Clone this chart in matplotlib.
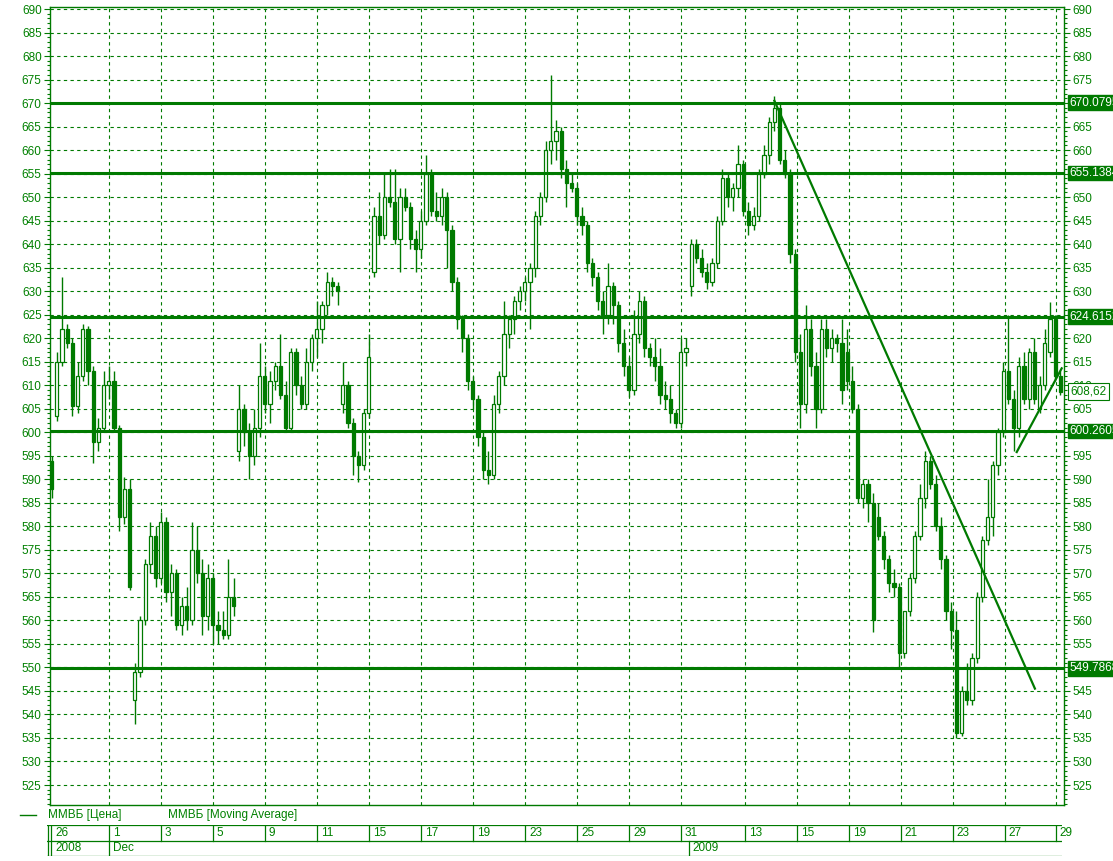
import matplotlib.pyplot as plt
import matplotlib.transforms as mtransforms
from matplotlib.lines import Line2D
import numpy as np

plt.rcParams['font.family'] = ['Liberation Sans', 'DejaVu Sans']
plt.rcParams['font.size'] = 8.5

GREEN = '#007a00'
TEXT_GREEN = '#008000'

# MMVB bars (one bar per ~2 hours)
opens = [594, 603.5, 615, 622, 619, 605.5, 612, 622, 613, 598,
         601, 610, 611, 601, 582, 588, 543, 549, 560, 572,
         578, 569, 581, 566, 570, 559, 563, 560, 575, 570,
         561, 569, 559, 558, 557, 565, 596, 605, 600, 595,
         601, 612, 606, 611, 614, 608, 601, 617, 610, 606,
         615, 620, 622, 627, 632, 631, 606, 610, 602, 595,
         593, 604, 634, 646, 642, 650, 649, 641, 650, 648,
         641, 639, 645, 655, 647, 646, 650, 643, 632, 624,
         620, 611, 607, 599, 592, 591, 606, 612, 621, 624,
         628, 630, 632, 635, 646, 650, 660, 662, 664, 656,
         653, 652, 646, 644, 636, 633, 628, 625, 631, 627,
         619, 614, 609, 621, 628, 618, 616, 614, 608, 607,
         604, 602, 617, 631, 640, 637, 634, 632, 636, 645,
         654, 650, 652, 657, 647, 644, 646, 655, 659, 666,
         669, 658, 655, 638, 617, 606, 622, 614, 605, 622,
         618, 620, 619, 617, 611, 605, 586, 589, 585, 582,
         578, 573, 568, 567, 553, 562, 569, 578, 586, 594,
         589, 580, 573, 562, 558, 536, 545, 543, 552, 565,
         577, 582, 593, 600, 613, 607, 601, 614, 607, 617,
         605, 610, 617, 624, 612]
highs = [595, 617, 633, 623, 620, 615, 623, 622.5, 614, 603,
         613, 614, 613, 601.5, 590.5, 590, 551, 561, 573, 581,
         580, 583, 582, 572, 571, 565, 567, 581, 580, 573,
         572, 570, 562, 562, 573, 569, 610, 606, 602, 605,
         619, 614, 613, 615, 621, 611, 618, 618, 612, 618,
         621, 628, 628, 634, 633, 632, 615, 611, 603, 596,
         605, 621, 648, 651, 655, 656, 656, 652, 652, 649,
         643, 647, 659, 656, 651, 652, 651, 644, 633, 625,
         621, 612, 608, 600, 596, 608, 613, 628, 625, 629,
         631, 633, 636, 647, 651, 662, 676, 666.5, 665, 658,
         655, 653, 648, 645, 637, 634, 630, 636, 632, 628,
         622, 616, 626, 630, 629, 619, 620, 618, 611, 610,
         605, 620, 620, 641, 641, 639, 636, 637, 646, 656,
         655, 653, 661, 658, 649, 648, 656, 661, 667, 671.5,
         670, 660, 656, 639, 621, 627, 624, 617, 624, 624,
         622, 621, 624, 622, 614, 606, 590, 590, 587, 585,
         579, 574, 571, 568, 562, 570, 579, 589, 596, 595,
         591, 582, 574, 564, 562, 546, 551, 553, 566, 578,
         590, 594, 601, 615, 625, 609, 616, 617, 618, 620,
         612, 622, 627.6, 625, 613]
lows = [586, 602.5, 614, 618, 603.5, 604, 611, 610, 593.5, 596,
        600, 607, 600, 579, 580.5, 566.5, 538, 548, 559, 570,
        567, 568, 564, 561, 558, 557, 558, 559, 568, 557,
        558, 555, 555, 556, 556, 561, 594, 597, 590, 593,
        599, 604, 602, 609, 607, 600, 600, 608, 605, 605,
        613, 616, 619, 625, 629, 627, 604, 601, 591, 589.5,
        592, 603, 633, 640, 641, 648, 640, 634, 647, 639,
        634, 637, 644, 646, 645, 644, 635, 630, 622, 617,
        609, 605, 597, 590, 589, 590, 604, 610, 618, 621,
        626, 628, 622, 633, 644, 649, 657, 658, 654, 648,
        651, 644, 642, 634, 631, 626, 621, 623, 623, 617,
        612, 607.5, 608, 619, 616, 614, 611, 606, 605, 602,
        601, 601, 614, 629, 636, 633, 630.5, 631, 635, 644,
        648, 647, 650, 646, 642, 643, 645, 654, 657, 664,
        657, 654, 636, 615, 601, 604, 612, 601, 604, 616,
        615, 617, 606, 609, 604, 585, 584, 581, 557.5, 577,
        571, 566, 565, 550, 552, 561, 568, 577, 584, 588,
        579, 571, 560, 554, 535, 535.5, 542, 542, 551, 564,
        576, 578, 591, 599, 606, 596, 599, 606, 605, 606,
        604, 609, 616, 611, 608]
closes = [588, 615, 622, 619, 605.5, 612, 622, 613, 598, 601,
          610, 611, 601, 582, 588, 567, 549, 560, 572, 578,
          569, 581, 566, 570, 559, 563, 560, 575, 570, 561,
          569, 559, 558, 557, 565, 563, 605, 600, 595, 601,
          612, 606, 611, 614, 608, 601, 617, 610, 606, 615,
          620, 622, 627, 632, 631, 630, 610, 602, 595, 593,
          604, 616, 646, 642, 650, 649, 641, 650, 648, 641,
          639, 645, 655, 647, 646, 650, 643, 632, 624, 620,
          611, 607, 599, 592, 591, 606, 612, 621, 624, 628,
          630, 632, 635, 646, 650, 660, 662, 664, 656, 653,
          652, 646, 644, 636, 633, 628, 625, 631, 627, 619,
          614, 609, 621, 628, 618, 616, 614, 608, 607, 604,
          602, 617, 618, 640, 637, 634, 632, 636, 645, 654,
          650, 652, 657, 647, 644, 646, 655, 659, 666, 669,
          658, 655, 638, 617, 606, 622, 614, 605, 622, 618,
          620, 619, 609, 611, 605, 586, 589, 585, 560, 578,
          573, 568, 567, 553, 562, 569, 578, 586, 594, 589,
          580, 573, 562, 558, 536, 545, 543, 552, 565, 577,
          582, 593, 600, 613, 607, 601, 614, 607, 617, 607,
          610, 619, 624, 612, 608.62]

# horizontal support/resistance levels and trend lines
levels = [670.0795, 655.1384, 624.6152, 600.2605, 549.7868]
level_labels = ['670.0795', '655.1384', '624.6152', '600.2605', '549.7868']
last_price = 608.62
last_label = '608,62'
trend_down_x = [139.5, 189.6]
trend_down_y = [670.5, 545.5]
trend_up_x = [186.1, 194.75]
trend_up_y = [595.8, 613.6]

# date strip (bar index of each day boundary)
day_pos = [11.5, 21.5, 31.5, 41.5, 51.5, 61.5, 71.5, 81.5, 91.5, 101.5,
           111.5, 121.5, 133.8, 143.8, 153.8, 163.8, 173.8, 183.8, 193.6]
day_labels = ['1', '3', '5', '9', '11', '15', '17', '19', '23', '25',
              '29', '31', '13', '15', '19', '21', '23', '27', '29']
first_day = '26'
period_pos = [11.5, 123.0]
period_labels = ['Dec', '2009']
first_period = '2008'

W, H = 1113, 861
PX0, PXU = 49.0, 5.2   # pixel of bar index 0, pixels per bar


def px2x(px):
    return (px - PX0) / PXU


fig = plt.figure(figsize=(W / 100, H / 100), dpi=100)
ax = fig.add_axes([50 / W, 1 - 805 / H, 1014 / W, 798 / H])

x = np.arange(len(closes)) + 0.5
o = np.array(opens)
c = np.array(closes)
up = c >= o
bottom = np.minimum(o, c)
height = np.maximum(np.abs(c - o), 0.35)

ax.vlines(x, lows, highs, color=GREEN, lw=1.0, zorder=3)
ax.bar(x[up], height[up], bottom=bottom[up], width=0.62,
       facecolor='white', edgecolor=GREEN, lw=0.9, zorder=4)
ax.bar(x[~up], height[~up], bottom=bottom[~up], width=0.62,
       facecolor=GREEN, edgecolor=GREEN, lw=0.9, zorder=4)

for lv in levels:
    ax.axhline(lv, color=GREEN, lw=2.2, zorder=5)
ax.plot(trend_down_x, trend_down_y, color=GREEN, lw=1.6, zorder=5)
ax.plot(trend_up_x, trend_up_y, color=GREEN, lw=1.6, zorder=5)

ax.set_xlim(px2x(50), px2x(1064))
ax.set_ylim(520.75, 690.43)
ax.set_yticks(np.arange(525, 691, 5))
ax.set_yticks(np.arange(521, 691, 1), minor=True)
ax.set_xticks(day_pos)
ax.grid(True, which='major', color=GREEN, linestyle=(0, (3, 3)), lw=0.8)
ax.tick_params(axis='x', length=0, labelbottom=False)
ax.tick_params(axis='y', which='both', left=True, right=True,
               labelleft=True, labelright=True, colors=GREEN,
               labelcolor=TEXT_GREEN, labelsize=8.5, width=0.8)
ax.tick_params(axis='y', which='major', length=4, pad=2)
ax.tick_params(axis='y', which='minor', length=2.5)
for sp in ax.spines.values():
    sp.set_color(GREEN)
    sp.set_linewidth(1.0)

# right-hand labels hidden behind the level boxes
covered = [round(lv / 5) * 5 for lv in levels]
for tk, val in zip(ax.yaxis.get_major_ticks(), ax.get_yticks()):
    if int(round(val)) in covered:
        tk.label2.set_visible(False)

# value labels on the right axis
trans = mtransforms.blended_transform_factory(ax.transAxes, ax.transData)
for lv, lab in zip(levels, level_labels):
    ax.text(1.0055, lv, lab, transform=trans, color='white', va='center',
            ha='left', fontsize=8.5, clip_on=False, zorder=20,
            bbox=dict(boxstyle='square,pad=0.12', fc=GREEN, ec=GREEN))
ax.text(1.0065, last_price, last_label, transform=trans, color=TEXT_GREEN,
        va='center', ha='left', fontsize=8.5, clip_on=False, zorder=20,
        bbox=dict(boxstyle='square,pad=0.2', fc='white', ec=GREEN, lw=0.8))

# legend row
fig.add_artist(Line2D([20 / W, 36 / W], [1 - 815 / H, 1 - 815 / H],
                      color=GREEN, lw=1.0))
fig.text(48 / W, 1 - 815 / H, 'ММВБ [Цена]', color=TEXT_GREEN,
         fontsize=8.5, va='center', ha='left')
fig.text(168 / W, 1 - 815 / H, 'ММВБ [Moving Average]', color=TEXT_GREEN,
         fontsize=8.5, va='center', ha='left')

# date strip
sx = fig.add_axes([47 / W, 1 - 856 / H, (1062 - 47) / W, 31 / H])
sx.set_xlim(px2x(47), px2x(1062))
sx.set_ylim(0, 2)
sx.axis('off')
lk = dict(color=GREEN, lw=0.9)
sx.axhline(2, **lk)
sx.axhline(1, **lk)
sx.axhline(0, **lk)
sx.axvline(px2x(47.5), **lk)
sx.axvline(px2x(50.5), **lk)
for p, lab in zip(day_pos, day_labels):
    sx.plot([p, p], [1, 2], **lk)
    sx.text(p + 0.8, 1.5, lab, color=TEXT_GREEN, fontsize=8.5,
            va='center', ha='left', clip_on=False)
sx.text(px2x(55), 1.5, first_day, color=TEXT_GREEN, fontsize=8.5,
        va='center', ha='left')
for p, lab in zip(period_pos, period_labels):
    sx.plot([p, p], [0, 1], **lk)
    sx.text(p + 0.8, 0.5, lab, color=TEXT_GREEN, fontsize=8.5,
            va='center', ha='left')
sx.text(px2x(55), 0.5, first_period, color=TEXT_GREEN, fontsize=8.5,
        va='center', ha='left')

fig.savefig('out.png', dpi=100)
